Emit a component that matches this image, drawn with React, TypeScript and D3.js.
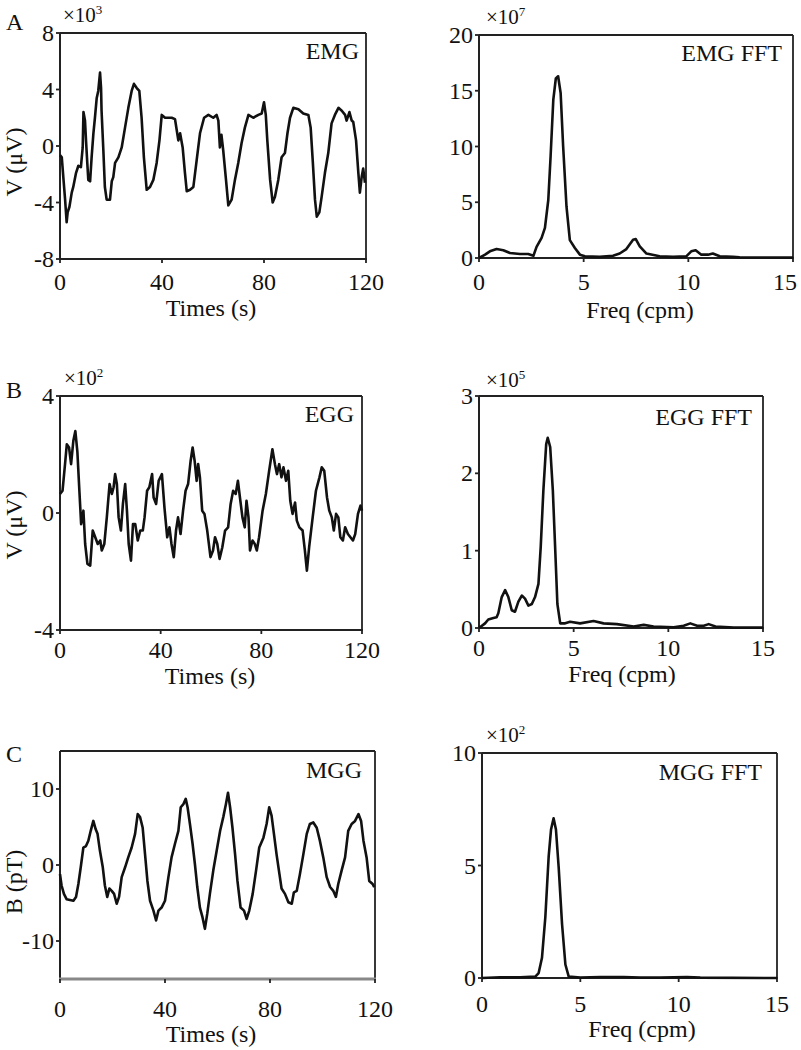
import React from "react";
import * as d3 from "d3";

// ---------- DATA ----------
// A: EMG time series (×10^3 µV)
const emgT = [0,0.7,1.3,2,2.6,3,3.7,4.6,5.2,6.3,7.2,8.2,8.9,9.2,9.8,10.2,10.7,11.1,11.8,12.4,13.1,13.7,14.4,15,15.7,16.1,16.3,17,17.6,18.3,19.6,20.3,20.9,21.6,22.9,24.2,25.5,26.8,28.1,29,30.1,31.1,32,32.9,34,35.3,36.6,37.9,39,39.9,41.2,42.5,43.8,45.1,45.8,46.4,47.1,48.1,49,49.7,51,52.3,53.6,54.9,56.5,58.2,60.1,61.4,62.1,62.7,63.3,64,65.1,66,67.3,68.6,69.9,71.2,72.5,73.9,75.8,77.8,79.1,80,80.7,81.3,82.4,83.4,84.3,85.6,86.9,88.2,89.2,90.2,91.5,93.5,95.4,97.4,98.3,99.1,100,100.7,101.7,102.6,103.9,105.2,106.5,107.8,109.2,110.5,111.8,112.4,113.5,114.4,115,116.1,117,117.6,118.3,118.9,119.6];
const emgV = [-0.65,-0.8,-2.2,-3.8,-5.4,-4.7,-4.3,-3.3,-2.9,-1.9,-1.4,-1.5,-0.1,2.4,1.8,0.4,-1.2,-2.4,-2.5,-0.8,0.9,2.0,3.4,3.9,5.2,4.1,2.5,-0.3,-2.9,-3.8,-3.8,-2.5,-2.2,-1.2,-0.8,-0.1,1.3,2.7,3.9,4.4,4.1,3.9,2.0,-0.8,-3.1,-2.9,-2.4,-1.2,0.4,2.2,2.0,2.0,2.0,1.9,1.1,0.4,0.9,-0.1,-1.9,-3.2,-3.1,-2.9,-1.0,0.9,2.0,2.2,2.0,2.2,1.8,-0.1,0.8,-0.3,-2.4,-4.2,-3.8,-2.4,-1.2,0.2,1.3,2.2,2.0,2.2,2.3,3.1,2.2,0.4,-2.4,-4.0,-3.6,-2.4,-0.8,-0.5,0.9,2.0,2.7,2.6,2.3,2.2,1.3,-1.0,-3.8,-5.0,-4.7,-3.6,-1.9,-0.5,1.6,2.2,2.7,2.5,2.2,1.8,2.4,1.8,1.7,0.4,-1.9,-3.3,-2.2,-1.6,-2.6];

// A: EMG FFT (×10^7)
const emgFftF = [0,0.29,0.52,0.84,1.16,1.48,1.96,2.35,2.6,2.75,2.99,3.15,3.31,3.42,3.55,3.67,3.78,3.9,4.02,4.18,4.34,4.58,4.82,5.06,5.77,6.4,6.72,7.04,7.36,7.49,7.68,8,8.63,9.27,9.9,10.14,10.35,10.62,10.94,11.17,11.5,12.13,12.45,15];
const emgFftV = [0,0.3,0.6,0.8,0.7,0.45,0.36,0.36,0.2,1.0,1.8,2.7,5.2,9.1,14.2,16.1,16.3,14.8,10,4.6,1.6,0.9,0.3,0.15,0.1,0.2,0.4,0.8,1.64,1.7,1.05,0.4,0.15,0.1,0.15,0.6,0.7,0.3,0.3,0.4,0.15,0.1,0.06,0.03];

// B: EGG time series (×10^2 µV)
const eggT = [0,1,2,2.7,3.6,4.4,5.3,6.1,6.9,7.7,8.4,9.3,10,10.9,12,13,14,15,16,16.6,17.6,18.6,19.7,20.6,21.3,21.9,22.6,23.3,24.2,25,25.9,26.6,27.3,28.2,29,29.9,30.9,31.9,32.9,33.6,34.6,35.5,36.6,37.2,38.2,39.2,40.5,41.5,42.6,43.5,44.3,45.2,46.1,46.9,47.9,48.9,49.9,50.9,51.9,52.7,53.5,54.3,54.9,55.6,56.5,57.4,58.5,59.8,60.8,61.6,62.5,63.4,64.5,65.6,66.8,67.8,68.8,69.8,70.7,71.5,72.5,73.4,74.1,74.9,75.5,76.5,77.4,78.2,79.1,80.5,81.8,83.1,84.4,85.4,86.2,87.1,88,88.8,89.8,90.7,91.5,92.4,93.4,94.1,95.1,96.4,97.3,98.1,99,100.4,101.7,103.1,104,105,106.1,107,108,108.8,109.7,110.6,111.4,112.4,113.3,114.4,115.4,116.4,117.3,118.4,119.4,120];
const eggV = [0.65,0.76,1.67,2.35,2.24,1.67,2.47,2.8,2.1,0.76,-0.38,0.08,-1.06,-1.74,-1.8,-0.6,-0.83,-1.06,-0.94,-1.28,-1.06,-0.15,0.99,0.65,0.88,1.33,0.99,-0.15,-0.6,0.31,0.99,0.08,-1.06,-1.63,-0.38,-0.38,-0.94,-0.6,-0.6,-0.15,0.76,0.88,1.33,0.53,0.31,1.1,1.33,0.19,-0.83,-0.49,-1.06,-1.51,-0.6,-0.15,-0.72,0.08,0.76,0.99,1.78,2.24,1.78,1.1,1.67,1.22,0.08,-0.03,-0.6,-1.51,-1.28,-0.83,-1.06,-1.57,-1.17,-0.6,-0.49,0.31,0.76,0.65,1.1,0.53,-0.15,-0.49,0.42,-0.15,-1.28,-0.94,-1.06,-1.28,-0.83,0.08,0.65,1.44,2.18,1.67,1.33,1.67,1.22,1.56,1.1,1.44,0.42,-0.03,0.36,-0.26,-0.49,-0.6,-1.28,-1.97,-1.17,-0.15,0.76,1.22,1.56,1.44,0.53,0.08,-0.15,-0.6,-0.03,-0.15,-0.83,-0.94,-0.49,-0.72,-0.83,-0.94,-0.72,-0.03,0.25,0.08];

// B: EGG FFT (×10^5)
const eggFftF = [0,0.32,0.49,0.76,0.93,1.02,1.2,1.38,1.55,1.73,1.9,2.08,2.26,2.43,2.61,2.79,2.96,3.14,3.26,3.4,3.55,3.63,3.76,3.9,4.02,4.14,4.29,4.55,4.81,5.34,6.05,6.58,7.28,8.17,8.7,9.22,10.28,10.81,11.16,11.52,11.87,12.13,12.49,13.46,15];
const eggFftV = [0,0.06,0.11,0.13,0.14,0.19,0.4,0.49,0.4,0.23,0.21,0.34,0.42,0.38,0.29,0.31,0.4,0.57,1.05,1.78,2.38,2.46,2.34,1.78,1.05,0.31,0.06,0.06,0.08,0.06,0.09,0.06,0.05,0.02,0.04,0.02,0.01,0.03,0.06,0.03,0.03,0.05,0.02,0.005,0.005];

// C: MGG time series (pT)
const mggT = [0,0.6,1.5,2.5,3.8,5.1,6.1,7,7.9,8.9,9.9,10.8,11.7,12.7,13.6,14.3,15.2,16.3,17.1,18,18.8,19.7,20.6,21.6,22.5,23.5,24.8,26,27.3,28.6,29.6,30.5,31.5,32.4,33.3,34.3,35.6,36.6,37.5,38.7,40,41.3,42.5,43.8,45.1,46,47,47.9,48.6,49.5,50.5,51.4,52.3,53.3,54.3,55.2,56.1,57.1,58.4,59.7,61,62.2,63.2,64,64.8,65.7,66.7,67.6,68.8,70.1,71.1,72.1,73.4,74.7,75.9,77.5,78.7,79.7,80.6,81.5,82.5,83.6,84.4,85.7,87,88.3,89.1,90.2,91.4,92.7,94,95.2,96.5,97.8,99,100.3,101.6,102.9,104.1,105.1,106,107.3,108.6,109.8,111.1,112.4,113.7,114.7,115.6,116.8,117.8,119.1,119.7];
const mggV = [-1.2,-2.7,-3.8,-4.5,-4.6,-4.7,-4.2,-2.5,-0.3,2.3,2.5,3.2,4.5,5.8,4.7,4.1,1.9,-0.3,-2.7,-4.2,-3.1,-3.4,-3.8,-5.1,-4.2,-1.6,-0.3,1.0,2.3,4.1,6.7,6.3,4.9,1.4,-2.1,-4.7,-6.0,-7.3,-6.0,-5.6,-4.7,-1.6,1.0,2.8,4.5,7.6,8.0,8.7,7.6,5.4,2.8,0.1,-2.9,-5.6,-6.9,-8.4,-6.4,-3.8,-0.7,1.9,4.5,6.3,8.0,9.5,7.6,4.9,1.4,-2.1,-5.6,-6.0,-7.1,-6.0,-3.8,-0.7,2.3,3.6,5.4,7.6,6.5,4.1,1.4,-1.2,-3.1,-3.8,-4.9,-5.1,-3.6,-3.4,-1.2,1.4,4.1,5.4,5.6,4.9,3.2,1.0,-1.6,-2.9,-3.4,-4.2,-2.5,-0.7,1.0,4.5,5.4,5.8,6.7,5.8,3.2,1.0,-2.1,-2.5,-2.9];

// C: MGG FFT (×10^2)
const mggFftF = [0,0.93,1.95,2.71,2.88,3.05,3.22,3.39,3.51,3.64,3.76,3.9,4.07,4.24,4.41,5,6.02,7.2,8.05,9.07,10.42,11.1,15];
const mggFftV = [0,0.03,0.03,0.06,0.22,0.9,2.7,5.4,6.6,7.1,6.6,4.9,2.4,0.6,0.06,0.015,0.045,0.045,0.015,0.015,0.045,0.015,0];

// Tick labels
const timeTicks = [0, 40, 80, 120];
const freqTicks = [0, 5, 10, 15];
const emgTicks = [-8, -4, 0, 4, 8];
const emgFftTicks = [0, 5, 10, 15, 20];
const eggTicks = [-4, 0, 4];
const eggFftTicks = [0, 1, 2, 3];
const mggTicks = [-10, 0, 10];
const mggFftTicks = [0, 5, 10];

const FONT = "'Liberation Serif', 'Times New Roman', serif";

type PanelProps = {
  xs: number[]; ys: number[];
  xDomain: [number, number]; yDomain: [number, number];
  xTicks: number[]; yTicks: number[];
  box: { x0: number; x1: number; y0: number; y1: number };
  title: string; titleX: number; titleY: number;
  xLabel: string; xLabelX: number; xLabelY: number; xTickY: number;
  yLabel?: string; yLabelX?: number; yLabelY?: number;
  mult?: { base: string; exp: string; x: number; y: number };
  letter?: { text: string; x: number; y: number };
  bottomColor?: string; bottomWidth?: number;
  maxTextX?: number;
};

function Panel(p: PanelProps) {
  const { box } = p;
  const x = d3.scaleLinear().domain(p.xDomain).range([box.x0, box.x1]);
  const y = d3.scaleLinear().domain(p.yDomain).range([box.y1, box.y0]);
  const pts = p.xs.map((t, i) => [t, p.ys[i]] as [number, number]);
  const line = d3.line<[number, number]>().x(d => x(d[0])).y(d => y(d[1]));
  return (
    <g fontFamily={FONT} fill="#111">
      {p.letter && <text x={p.letter.x} y={p.letter.y} fontSize={24}>{p.letter.text}</text>}
      {p.mult && (
        <text x={p.mult.x} y={p.mult.y} fontSize={21}>
          {p.mult.base}
          <tspan fontSize={13} dy={-8}>{p.mult.exp}</tspan>
        </text>
      )}
      {/* frame */}
      <line x1={box.x0} x2={box.x1} y1={box.y0} y2={box.y0} stroke="#222" strokeWidth={1.8} />
      <line x1={box.x1} x2={box.x1} y1={box.y0} y2={box.y1} stroke="#222" strokeWidth={1.8} />
      <line x1={box.x0} x2={box.x0} y1={box.y0} y2={box.y1} stroke="#222" strokeWidth={2} />
      <line x1={box.x0 - 1} x2={box.x1 + 1} y1={box.y1} y2={box.y1} stroke={p.bottomColor || "#222"} strokeWidth={p.bottomWidth || 2} />
      {/* y ticks */}
      {p.yTicks.map(t => (
        <g key={"y" + t}>
          <line x1={box.x0 - 4} x2={box.x0} y1={y(t)} y2={y(t)} stroke="#222" strokeWidth={1.8} />
          <text x={box.x0 - 6} y={y(t) + 8} fontSize={24} textAnchor="end">{t}</text>
        </g>
      ))}
      {/* x ticks */}
      {p.xTicks.map(t => {
        const cx = p.maxTextX !== undefined ? Math.min(x(t), p.maxTextX) : x(t);
        return (
          <g key={"x" + t}>
            <line x1={x(t)} x2={x(t)} y1={box.y1} y2={box.y1 + 4} stroke="#222" strokeWidth={1.8} />
            <text x={cx} y={p.xTickY} fontSize={24} textAnchor="middle">{t}</text>
          </g>
        );
      })}
      <path d={line(pts) || ""} fill="none" stroke="#111" strokeWidth={2.6} strokeLinejoin="round" />
      <text x={p.titleX} y={p.titleY} fontSize={24} textAnchor="end">{p.title}</text>
      <text x={p.xLabelX} y={p.xLabelY} fontSize={24} textAnchor="middle">{p.xLabel}</text>
      {p.yLabel && (
        <text transform={`translate(${p.yLabelX},${p.yLabelY}) rotate(-90)`} fontSize={24} textAnchor="middle">{p.yLabel}</text>
      )}
    </g>
  );
}

export default function App() {
  return (
    <svg width={801} height={1050} style={{ position: "absolute", left: 0, top: 0, background: "#fff" }}>
      <rect width={801} height={1050} fill="#fff" />
      {/* Row A */}
      <Panel xs={emgT} ys={emgV} xDomain={[0, 120]} yDomain={[-8, 8]} xTicks={timeTicks} yTicks={emgTicks}
        box={{ x0: 60, x1: 366, y0: 33, y1: 259 }} title="EMG" titleX={359} titleY={59}
        xLabel="Times (s)" xLabelX={211} xLabelY={316} xTickY={290}
        yLabel="V (μV)" yLabelX={22} yLabelY={162}
        mult={{ base: "×10", exp: "3", x: 63, y: 22 }} letter={{ text: "A", x: 6, y: 30 }} />
      <Panel xs={emgFftF} ys={emgFftV} xDomain={[0, 15]} yDomain={[0, 20]} xTicks={freqTicks} yTicks={emgFftTicks}
        box={{ x0: 479, x1: 793, y0: 35, y1: 258 }} title="EMG FFT" titleX={782} titleY={61}
        xLabel="Freq (cpm)" xLabelX={640} xLabelY={318} xTickY={290} maxTextX={785}
        mult={{ base: "×10", exp: "7", x: 486, y: 24 }} />
      {/* Row B */}
      <Panel xs={eggT} ys={eggV} xDomain={[0, 120]} yDomain={[-4, 4]} xTicks={timeTicks} yTicks={eggTicks}
        box={{ x0: 60, x1: 362, y0: 396, y1: 630 }} title="EGG" titleX={354} titleY={422}
        xLabel="Times (s)" xLabelX={210} xLabelY={684} xTickY={658}
        yLabel="V (μV)" yLabelX={22} yLabelY={525}
        mult={{ base: "×10", exp: "2", x: 64, y: 385 }} letter={{ text: "B", x: 6, y: 398 }} />
      <Panel xs={eggFftF} ys={eggFftV} xDomain={[0, 15]} yDomain={[0, 3]} xTicks={freqTicks} yTicks={eggFftTicks}
        box={{ x0: 479, x1: 763, y0: 396, y1: 628 }} title="EGG FFT" titleX={752} titleY={425}
        xLabel="Freq (cpm)" xLabelX={622} xLabelY={682} xTickY={656}
        mult={{ base: "×10", exp: "5", x: 486, y: 387 }} />
      {/* Row C */}
      <Panel xs={mggT} ys={mggV} xDomain={[0, 120]} yDomain={[-15, 15]} xTicks={timeTicks} yTicks={mggTicks}
        box={{ x0: 60, x1: 375, y0: 751, y1: 979 }} title="MGG" titleX={362} titleY={778}
        xLabel="Times (s)" xLabelX={211} xLabelY={1042} xTickY={1017}
        yLabel="B (pT)" yLabelX={22} yLabelY={882}
        letter={{ text: "C", x: 6, y: 762 }} bottomColor="#888" bottomWidth={3} />
      <Panel xs={mggFftF} ys={mggFftV} xDomain={[0, 15]} yDomain={[0, 10]} xTicks={freqTicks} yTicks={mggFftTicks}
        box={{ x0: 482, x1: 777, y0: 753, y1: 978 }} title="MGG FFT" titleX={762} titleY={780}
        xLabel="Freq (cpm)" xLabelX={642} xLabelY={1037} xTickY={1012}
        mult={{ base: "×10", exp: "2", x: 486, y: 742 }} />
    </svg>
  );
}
